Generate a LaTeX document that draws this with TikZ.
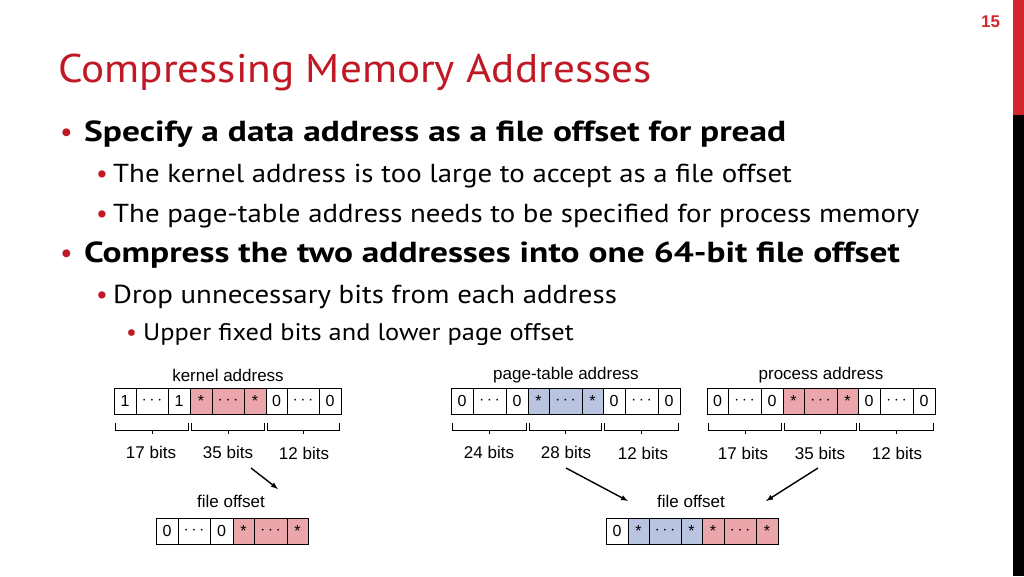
\documentclass[tikz,border=0pt]{standalone}
\usepackage{fontspec}
\usepackage{graphicx}
\setmainfont{PT Sans}
\newfontfamily\arial{Liberation Sans}
\definecolor{tred}{RGB}{192,24,36}
\definecolor{bred}{RGB}{210,40,45}
\definecolor{pk}{RGB}{234,166,170}
\definecolor{bl}{RGB}{184,196,224}
\newcommand{\mycell}[6]{\node[cell,fill=#4,minimum width={#3-#2}] (#1) at ({(#2+#3)/2},#5) {#6};}
\newcommand{\mybrk}[2]{\draw[brk] ([xshift=2pt]#1.south west) ++(0,9) -- ++(0,7) -| ([shift={(-2pt,-9pt)}]#2.south east);
  \draw[brk] ($(#1.south west)!0.5!(#2.south east)+(0,16)$) -- ++(0,4);}
\newcommand{\dd}{$\cdots$}
\usetikzlibrary{calc}
\begin{document}
\begin{tikzpicture}[x=1pt,y=-1pt,
  cell/.style={draw,line width=0.9pt,minimum height=26pt,inner sep=0pt,font=\arial\fontsize{16}{16}\selectfont},
  txt/.style={anchor=base west,inner sep=0pt},
  lab/.style={inner sep=0pt,font=\arial\fontsize{17}{17}\selectfont},
  brk/.style={line width=1pt},
  arr/.style={-latex,line width=1.4pt}]
\useasboundingbox (0,0) rectangle (1024,576);
\fill[bred] (1013,0) rectangle (1024,115);
\fill[black] (1013,115) rectangle (1024,576);
\node[txt,text=bred,font=\arial\bfseries\fontsize{17}{17}\selectfont] (pg) at (981,27) {15};
\node[txt,text=tred,font=\fontsize{40}{40}\selectfont] (title) at (58,82) {\scalebox{1.08}[1]{Compressing Memory Addresses}};
\begin{scope}[every node/.style={txt}]
\node[text=tred,font=\fontsize{28}{28}\selectfont] (b1) at (60,141) {•};
\node[font=\bfseries\fontsize{29}{29}\selectfont] (t1) at (84,141) {\scalebox{1.22}[1]{Specify a data address as a file offset for pread}};
\node[text=tred,font=\fontsize{26}{26}\selectfont] (b2) at (96,182) {•};
\node[font=\fontsize{26}{26}\selectfont] (t2) at (113,182) {\scalebox{1.11}[1]{The kernel address is too large to accept as a file offset}};
\node[text=tred,font=\fontsize{26}{26}\selectfont] (b3) at (96,222) {•};
\node[font=\fontsize{26}{26}\selectfont] (t3) at (113,222) {\scalebox{1.11}[1]{The page-table address needs to be specified for process memory}};
\node[text=tred,font=\fontsize{28}{28}\selectfont] (b4) at (60,262) {•};
\node[font=\bfseries\fontsize{29}{29}\selectfont] (t4) at (84,262) {\scalebox{1.22}[1]{Compress the two addresses into one 64-bit file offset}};
\node[text=tred,font=\fontsize{26}{26}\selectfont] (b5) at (96,303) {•};
\node[font=\fontsize{26}{26}\selectfont] (t5) at (113,303) {\scalebox{1.11}[1]{Drop unnecessary bits from each address}};
\node[text=tred,font=\fontsize{24}{24}\selectfont] (b6) at (126,340) {•};
\node[font=\fontsize{24}{24}\selectfont] (t6) at (143,340) {\scalebox{1.10}[1]{Upper fixed bits and lower page offset}};
\end{scope}
% kernel
\node[lab] (kl) at (228,375) {kernel address};
\mycell{ka}{114}{136}{white}{401}{1}
\mycell{kb}{136}{168}{white}{401}{\dd}
\mycell{kc}{168}{190}{white}{401}{1}
\mycell{kd}{190}{212}{pk}{401}{*}
\mycell{ke}{212}{244}{pk}{401}{\dd}
\mycell{kf}{244}{266}{pk}{401}{*}
\mycell{kg}{266}{287}{white}{401}{0}
\mycell{kh}{287}{319}{white}{401}{\dd}
\mycell{ki}{319}{341}{white}{401}{0}
\mybrk{ka}{kc}\mybrk{kd}{kf}\mybrk{kg}{ki}
\node[lab] (k17) at (151,452) {17 bits};
\node[lab] (k35) at (228,452) {35 bits};
\node[lab] (k12) at (304,453) {12 bits};
\node[lab] (fo1) at (231,501) {file offset};
\mycell{fa}{156}{178}{white}{531}{0}
\mycell{fb}{178}{210}{white}{531}{\dd}
\mycell{fc}{210}{233}{white}{531}{0}
\mycell{fd}{233}{254}{pk}{531}{*}
\mycell{fe}{254}{287}{pk}{531}{\dd}
\mycell{ff}{287}{308}{pk}{531}{*}
\coordinate (a1s) at (251,468); \coordinate (a1e) at (278,489);
\draw[arr] (a1s) -- (a1e);
% page-table
\node[lab] (pl) at (566,375) {page-table address};
\mycell{pa}{451}{473}{white}{401}{0}
\mycell{pb}{473}{506}{white}{401}{\dd}
\mycell{pc}{506}{528}{white}{401}{0}
\mycell{pd}{528}{549}{bl}{401}{*}
\mycell{pe}{549}{582}{bl}{401}{\dd}
\mycell{pf}{582}{603}{bl}{401}{*}
\mycell{pg}{603}{625}{white}{401}{0}
\mycell{ph}{625}{658}{white}{401}{\dd}
\mycell{pi}{658}{680}{white}{401}{0}
\mybrk{pa}{pc}\mybrk{pd}{pf}\mybrk{pg}{pi}
\node[lab] (p24) at (489,452) {24 bits};
\node[lab] (p28) at (566,452) {28 bits};
\node[lab] (p12) at (643,453) {12 bits};
% process
\node[lab] (rl) at (821,375) {process address};
\mycell{ra}{707}{728}{white}{401}{0}
\mycell{rb}{728}{761}{white}{401}{\dd}
\mycell{rc}{761}{783}{white}{401}{0}
\mycell{rd}{783}{804}{pk}{401}{*}
\mycell{re}{804}{837}{pk}{401}{\dd}
\mycell{rf}{837}{858}{pk}{401}{*}
\mycell{rg}{858}{880}{white}{401}{0}
\mycell{rh}{880}{913}{white}{401}{\dd}
\mycell{ri}{913}{935}{white}{401}{0}
\mybrk{ra}{rc}\mybrk{rd}{rf}\mybrk{rg}{ri}
\node[lab] (r17) at (743,453) {17 bits};
\node[lab] (r35) at (820,453) {35 bits};
\node[lab] (r12) at (897,453) {12 bits};
% combined
\node[lab] (fo2) at (691,501) {file offset};
\mycell{ga}{606}{628}{white}{531}{0}
\mycell{gb}{628}{649}{bl}{531}{*}
\mycell{gc}{649}{681}{bl}{531}{\dd}
\mycell{gd}{681}{702}{bl}{531}{*}
\mycell{ge}{702}{724}{pk}{531}{*}
\mycell{gf}{724}{756}{pk}{531}{\dd}
\mycell{gg}{756}{778}{pk}{531}{*}
\coordinate (a2s) at (566,468); \coordinate (a2e) at (628,501);
\coordinate (a3s) at (818,468); \coordinate (a3e) at (766,501);
\draw[arr] (a2s) -- (a2e);
\draw[arr] (a3s) -- (a3e);
\end{tikzpicture}
\end{document}
